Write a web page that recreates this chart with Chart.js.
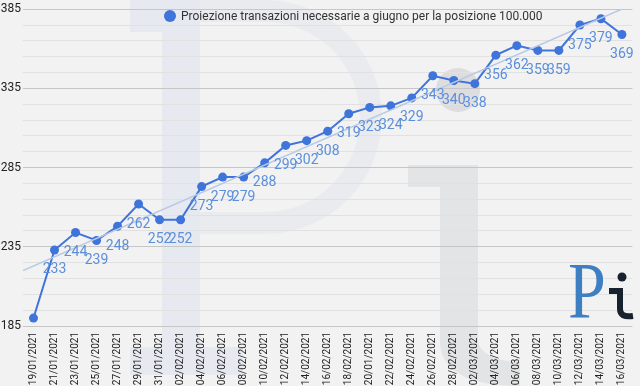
<!DOCTYPE html>
<html>
<head>
<meta charset="utf-8">
<script src="https://cdn.jsdelivr.net/npm/chart.js@4.4.1/dist/chart.umd.min.js"></script>
<style>
  html, body { margin: 0; padding: 0; background: #f2f2f2; }
  #wrap { width: 640px; height: 386px; }
</style>
</head>
<body>
<div id="wrap"><canvas id="chart" width="640" height="386"></canvas></div>
<script>
// date (ogni due giorni) - il "20/01/2021" e' cosi' nell'originale
const labels = [
    '19/01/2021', '21/01/2021', '23/01/2021', '25/01/2021', '27/01/2021', '29/01/2021',
    '31/01/2021', '02/02/2021', '04/02/2021', '06/02/2021', '08/02/2021', '10/02/2021',
    '12/02/2021', '14/02/2021', '16/02/2021', '18/02/2021', '20/01/2021', '22/02/2021',
    '24/02/2021', '26/02/2021', '28/02/2021', '02/03/2021', '04/03/2021', '06/03/2021',
    '08/03/2021', '10/03/2021', '12/03/2021', '14/03/2021', '16/03/2021'
];

// transazioni necessarie
const values = [
    190, 233, 244, 239, 248, 262, 252, 252, 273, 279, 279, 288, 299, 302, 308,
    319, 323, 324, 329, 343, 340, 338, 356, 362, 359, 359, 375, 379, 369
];

// linea di tendenza: valori letti agli estremi dell'asse
const trendX = [-0.5, 28.5];
const trendY = [220, 388];

// righe della griglia (ogni 10) e valori con etichetta (ogni 50)
const gridValues = [185, 195, 205, 215, 225, 235, 245, 255, 265, 275, 285, 295, 305,
    315, 325, 335, 345, 355, 365, 375, 385];
const yTickLabels = [185, 235, 285, 335, 385];

const legendText = 'Proiezione transazioni necessarie a giugno per la posizione 100.000';

// sfondo con il logo "Pi" sbiadito
const watermark = {
    id: 'watermark',
    beforeDraw(chart) {
        const c = chart.ctx;
        c.save();
        // P grande
        c.fillStyle = '#e6e9f0';
        c.fillRect(162, 0, 38, 373);
        c.fillRect(130, 0, 70, 32);
        c.fillRect(130, 347, 113, 28);
        c.fillStyle = '#e9ebef';
        c.beginPath();
        c.moveTo(200, 0);
        c.lineTo(265, 0);
        c.arc(265, 117, 117, -Math.PI / 2, Math.PI / 2);
        c.lineTo(200, 234);
        c.lineTo(200, 212);
        c.lineTo(265, 212);
        c.arc(265, 117, 95, Math.PI / 2, -Math.PI / 2, true);
        c.lineTo(200, 22);
        c.closePath();
        c.fill();
        // i grande
        c.fillStyle = '#e3e4e6';
        c.fillRect(408, 165, 70, 22);
        c.beginPath();
        c.moveTo(440, 165);
        c.lineTo(478, 165);
        c.lineTo(478, 340);
        c.quadraticCurveTo(480, 360, 520, 362);
        c.lineTo(520, 386);
        c.quadraticCurveTo(445, 386, 440, 345);
        c.closePath();
        c.fill();
        c.fillStyle = '#dddddf';
        c.beginPath();
        c.arc(458, 90, 22, 0, Math.PI * 2);
        c.fill();
        c.restore();
    },
    afterDraw(chart) {
        const c = chart.ctx;
        // legenda sopra al grafico
        c.save();
        c.fillStyle = '#3f74db';
        c.beginPath();
        c.arc(170, 16, 6, 0, Math.PI * 2);
        c.fill();
        c.fillStyle = '#333';
        c.font = '12px Roboto';
        c.textBaseline = 'middle';
        c.fillText(legendText, 181, 17);
        c.restore();

        // logo piccolo in basso a destra
        c.save();
        c.fillStyle = '#3d7fc1';
        c.font = '80px "Liberation Serif"';
        c.textBaseline = 'alphabetic';
        c.translate(568, 318);
        c.scale(0.85, 1);
        c.fillText('P', 0, 0);
        c.restore();
        c.save();
        c.fillStyle = '#18222e';
        c.strokeStyle = '#18222e';
        c.beginPath();
        c.arc(622, 277, 4.5, 0, Math.PI * 2);
        c.fill();
        c.lineWidth = 6;
        c.beginPath();
        c.moveTo(609, 291);
        c.lineTo(620, 291);
        c.lineTo(620, 309);
        c.quadraticCurveTo(620, 318, 633, 316);
        c.stroke();
        c.restore();
    }
};

// etichette dei valori sotto ai punti
const valueLabels = {
    id: 'valueLabels',
    afterDatasetsDraw(chart) {
        const c = chart.ctx;
        const area = chart.chartArea;
        const meta = chart.getDatasetMeta(1);
        c.save();
        c.font = '14px Roboto';
        c.fillStyle = '#5b8edb';
        c.textAlign = 'center';
        c.textBaseline = 'middle';
        meta.data.forEach((pt, i) => {
            const y = pt.y + 20;
            if (y > area.bottom - 6) return;
            c.fillText(String(values[i]), pt.x, y);
        });
        c.restore();
    }
};

new Chart(document.getElementById('chart'), {
    type: 'line',
    data: {
        labels: labels,
        datasets: [{
            label: 'trend',
            data: trendX.map((x, i) => ({ x: x, y: trendY[i] })),
            xAxisID: 'xTrend',
            borderColor: '#b9c9e3',
            borderWidth: 1.5,
            pointRadius: 0,
            fill: false
        }, {
            label: legendText,
            data: values,
            borderColor: '#3f74db',
            backgroundColor: '#3f74db',
            borderWidth: 2,
            pointRadius: 4.5,
            pointHoverRadius: 4.5,
            pointBackgroundColor: '#3f74db',
            pointBorderWidth: 0,
            tension: 0,
            fill: false
        }]
    },
    options: {
        responsive: false,
        animation: false,
        layout: { padding: { top: 5, right: 1, left: 0, bottom: 0 } },
        plugins: {
            legend: { display: false },
            tooltip: { enabled: false }
        },
        scales: {
            x: {
                type: 'category',
                offset: true,
                grid: { display: false, drawTicks: false },
                border: { display: false },
                ticks: {
                    autoSkip: false,
                    minRotation: 90,
                    maxRotation: 90,
                    padding: 6,
                    color: '#222',
                    font: { family: 'Roboto', size: 10 }
                },
                afterFit: s => { s.height = 60; }
            },
            xTrend: {
                type: 'linear',
                display: false,
                min: -0.5,
                max: 28.5
            },
            y: {
                min: 185,
                max: 385,
                border: { display: false },
                afterBuildTicks: s => { s.ticks = gridValues.map(v => ({ value: v })); },
                grid: {
                    color: ctx => (yTickLabels.includes(ctx.tick.value) ? '#c6c6c6' : '#e1e1e1'),
                    lineWidth: 1,
                    drawTicks: false
                },
                ticks: {
                    autoSkip: false,
                    padding: 2,
                    color: '#222',
                    font: { family: 'Roboto', size: 12 },
                    callback: v => (yTickLabels.includes(v) ? String(v) : '')
                },
                afterFit: s => { s.width = 23; }
            }
        }
    },
    plugins: [watermark, valueLabels]
});
</script>
</body>
</html>
